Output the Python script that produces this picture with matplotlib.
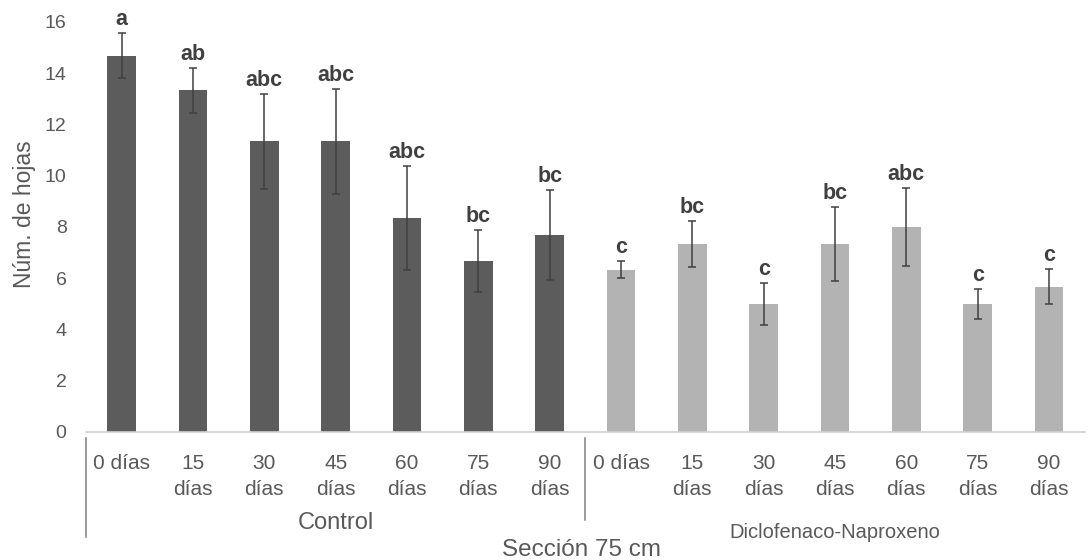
import numpy as np
import matplotlib.pyplot as plt

plt.rcParams['font.family'] = ['Liberation Sans', 'DejaVu Sans']

# mean number of leaves per sampling day (75 cm section)
dias = ['0 días', '15\ndías', '30\ndías', '45\ndías', '60\ndías', '75\ndías', '90\ndías']
control = [14.67, 13.33, 11.33, 11.33, 8.33, 6.67, 7.67]
control_err = [0.88, 0.88, 1.86, 2.03, 2.03, 1.20, 1.76]
control_let = ['a', 'ab', 'abc', 'abc', 'abc', 'bc', 'bc']
diclo = [6.33, 7.33, 5.00, 7.33, 8.00, 5.00, 5.67]
diclo_err = [0.33, 0.88, 0.82, 1.45, 1.53, 0.58, 0.67]
diclo_let = ['c', 'bc', 'c', 'bc', 'abc', 'c', 'c']

vals = control + diclo
errs = control_err + diclo_err
letters = control_let + diclo_let
labels = dias + dias
colors = ['#5c5c5c'] * len(control) + ['#b3b3b3'] * len(diclo)
x = np.arange(len(vals))

fig = plt.figure(figsize=(10.89, 5.6), dpi=100)
ax = fig.add_axes([0.079, 0.2286, 0.917, 0.7326])

ax.bar(x, vals, width=0.4, color=colors, zorder=2)
ax.errorbar(x, vals, yerr=errs, fmt='none', ecolor='#404040',
            elinewidth=1.1, capsize=3, capthick=1.1, zorder=3)
for xi, v, e, t in zip(x, vals, errs, letters):
    ax.text(xi, v + e + 0.12, t, ha='center', va='bottom', fontsize=15.5,
            fontweight='bold', color='#404040', clip_on=False)

ax.set_xlim(-0.5, len(vals) - 0.5)
ax.set_ylim(0, 16)
ax.set_yticks(range(0, 17, 2))
ax.set_xticks(x)
ax.set_xticklabels(labels, linespacing=1.42)
ax.tick_params(axis='x', length=0, pad=16, labelsize=15, labelcolor='#595959')
ax.tick_params(axis='y', length=0, pad=14, labelsize=14, labelcolor='#595959')
for s in ['top', 'right', 'left']:
    ax.spines[s].set_visible(False)
ax.spines['bottom'].set_color('#d0d0d0')
ax.spines['bottom'].set_linewidth(1.2)
ax.set_ylabel('Núm. de hojas', fontsize=16.5, color='#595959')
ax.yaxis.set_label_coords(-0.05, 0.53)

# group separators and labels under the category axis
trans = ax.get_xaxis_transform()
ax.plot([-0.5, -0.5], [-0.015, -0.256], color='#7f7f7f', lw=1.1,
        transform=trans, clip_on=False)
ax.plot([6.5, 6.5], [-0.015, -0.2145], color='#7f7f7f', lw=1.1,
        transform=trans, clip_on=False)
ax.text(3, -0.222, 'Control', transform=trans, ha='center', va='center',
        fontsize=17, color='#595959')
ax.text(10.0, -0.246, 'Diclofenaco-Naproxeno', transform=trans, ha='center',
        va='center', fontsize=14.5, color='#595959')
ax.text(6.45, -0.287, 'Sección 75 cm', transform=trans, ha='center',
        va='center', fontsize=17.5, color='#595959')

fig.savefig('out.png', dpi=100)
